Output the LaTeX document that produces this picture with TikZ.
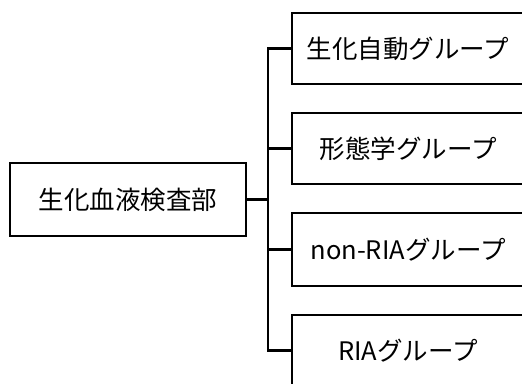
\documentclass[tikz,border=0pt]{standalone}
\usepackage{fontspec}
\newfontfamily\jp{Noto Sans CJK JP}
\begin{document}
\begin{tikzpicture}[x=1pt,y=-1pt,
  box/.style={draw=black,line width=2pt,rectangle,inner sep=0pt,font=\jp\fontsize{25.5}{28}\selectfont},
  conn/.style={draw=black,line width=2.2pt}]
\clip (0,0) rectangle (522,383);
\fill[white] (0,0) rectangle (522,383);
\node[box,minimum width=236pt,minimum height=73pt] (root) at (128,199.5) {生化血液検査部};
\node[box,minimum width=232pt,minimum height=71pt] (g1) at (408,48.5) {生化自動グループ};
\node[box,minimum width=232pt,minimum height=71pt] (g2) at (408,148.5) {形態学グループ};
\node[box,minimum width=232pt,minimum height=73pt] (g3) at (408,249.5) {non-RIAグループ};
\node[box,minimum width=232pt,minimum height=71pt] (g4) at (408,350.5) {RIAグループ};
\coordinate (t) at (268,199.5);
\draw[conn] (root.east) -- (t);
\draw[conn] (g1.west) -| (t);
\draw[conn] (g4.west) -| (t);
\draw[conn] (g2.west) -- (g2.west -| t);
\draw[conn] (g3.west) -- (g3.west -| t);
\end{tikzpicture}
\end{document}
